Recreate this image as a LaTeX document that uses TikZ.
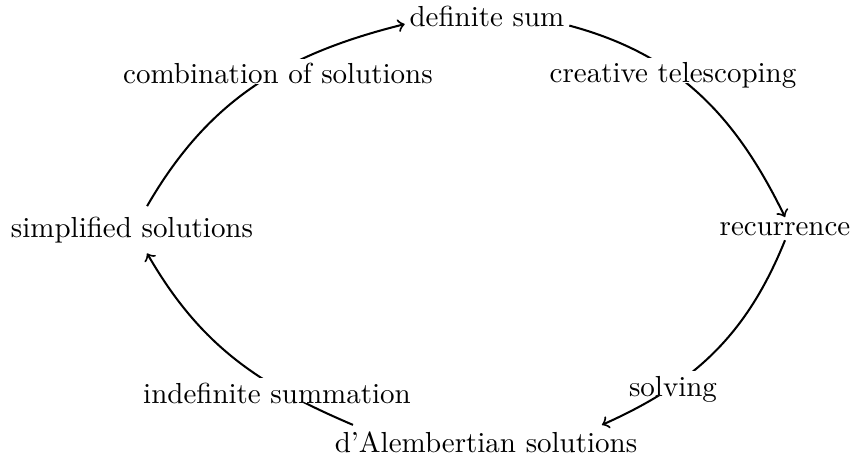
\documentclass[tikz,border=0pt]{standalone}
\usetikzlibrary{calc}
\begin{document}
\begin{tikzpicture}[x=0.345pt,y=0.345pt,
  mainnode/.style={anchor=base,inner sep=1.5pt},
  edgelabel/.style={anchor=base,inner sep=0pt,fill=white,text height=8.5pt,text depth=-1pt},
  flow/.style={->,>=to,line width=0.7pt}]
\useasboundingbox (0,0) rectangle (855,-461);
% main nodes
\node[mainnode] (ds) at (487,-27) {definite sum};
\node[mainnode] (rec) at (785,-235) {recurrence};
\node[mainnode] (dal) at (486,-452) {d'Alembertian solutions};
\node[mainnode] (simp) at (132,-237) {simplified solutions};
% connectors
\draw[flow] (ds.-6) to[out=-15,in=116] (rec.north);
\draw[flow] (rec.south) to[out=-112,in=24] ([xshift=40pt,yshift=0.5pt]dal.north);
\draw[flow] ([xshift=-45.9pt,yshift=0.5pt]dal.north) to[out=157,in=-60] ([xshift=5.2pt,yshift=-2pt]simp.south);
\draw[flow] ([xshift=5.2pt,yshift=1.9pt]simp.north) to[out=60,in=-166] (ds.185);
% labels
\node[edgelabel] (ct) at (673,-83) {creative telescoping};
\node[edgelabel] (sv) at (673,-396) {solving};
\node[edgelabel] (is) at (277,-403) {indefinite summation};
\node[edgelabel] (cs) at (278,-84) {combination of solutions};
\end{tikzpicture}
\end{document}
